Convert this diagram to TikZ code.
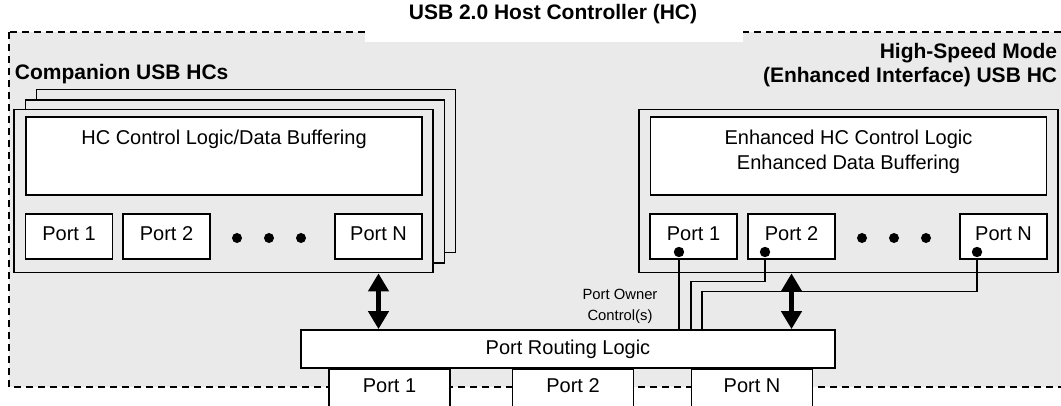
\documentclass[tikz,border=0pt]{standalone}
\usepackage{fontspec}
\setmainfont{Liberation Sans}
\usetikzlibrary{arrows.meta,positioning}
\definecolor{bggray}{gray}{0.918}

\begin{document}
\begin{tikzpicture}[x=0.5pt,y=-0.5pt,line width=0.9pt,
    font=\fontsize{10}{12}\selectfont,
    hcframe/.style={draw,fill=bggray,minimum width=209.5pt,minimum height=81.5pt},
    logicbox/.style={draw,fill=white,minimum width=198pt,minimum height=39pt},
    portbox/.style={draw,fill=white,minimum width=43.5pt,minimum height=22.5pt,
        text height=7.2pt,text depth=3.6pt,inner sep=0pt},
    lowport/.style={portbox,minimum width=60.5pt,minimum height=20pt,anchor=north},
    headline/.style={font=\fontsize{10.5}{12}\selectfont\bfseries,inner sep=0pt},
    busarrow/.style={line width=2.4pt,{Triangle[width=10pt,length=9pt]}-{Triangle[width=10pt,length=9pt]}},
    ownerline/.style={line width=0.8pt},
    portdot/.style={circle,fill,inner sep=0pt,minimum size=5.2pt}]

    \useasboundingbox (0,0) rectangle (1061,406);
    \clip (0,0) rectangle (1061,406);
    \draw[fill=bggray,line width=1pt,dash pattern=on 3.5pt off 2.5pt] (9,32) rectangle (1080,387);
    \fill[white] (365,-5) rectangle (743,42);
    \node[headline,anchor=base] (title) at (553,20) {USB 2.0 Host Controller (HC)};

    \node[headline,anchor=base west] (complabel) at (14,79.5) {Companion USB HCs};
    \node[hcframe] (lback) at (246,171) {};
    \node[hcframe] (lmid) at (235,181.5) {};
    \node[hcframe] (lframe) at (223.5,191) {};
    \node[logicbox] (lctl) at (224,156) {};
    \node (lctltext) at ([yshift=-11.5pt]lctl.north) {HC Control Logic/Data Buffering};
    \node[portbox] (lp1) at (69,236.5) {Port 1};
    \node[portbox] (lp2) at (166.5,236.5) {Port 2};
    \node[portbox] (lpN) at (378.5,236.5) {Port N};

    \node[headline,anchor=north east,align=right] (hslabel) at (1058,42) {High-Speed Mode\\(Enhanced Interface) USB HC};
    \node[hcframe] (rframe) at (848.5,191) {};
    \node[logicbox] (rctl) at (848.5,156) {};
    \node[align=center,font=\fontsize{10}{12.5}\selectfont] (rctltext) at (848.5,151.5) {Enhanced HC Control Logic\\Enhanced Data Buffering};
    \node[portbox] (rp1) at (693.5,236.5) {Port 1};
    \node[portbox] (rp2) at (791.5,236.5) {Port 2};
    \node[portbox] (rpN) at (1003.5,236.5) {Port N};

    \foreach \x in {237,269,301,862,894,926}
        \fill (\x,238) circle[radius=2.5pt];

    \node[draw,fill=white,minimum width=267pt,minimum height=19pt,text height=7.2pt,text depth=2.1pt] (route) at (568,349) {Port Routing Logic};
    \node[lowport] (bp1) at (389.5,368) {Port 1};
    \node[lowport] (bp2) at (573,368) {Port 2};
    \node[lowport] (bpN) at (752,368) {Port N};

    \draw[busarrow] (lframe.south -| lpN) -- (lpN |- route.north);
    \draw[busarrow] (rframe.south -| rp2) -- (rp2 |- route.north);

    \node[portdot] (rp1dot) at (679,252) {};
    \node[portdot] (rp2dot) at (765,252) {};
    \node[portdot] (rpNdot) at (977,252) {};
    \coordinate (bend2) at (691,281.7);
    \coordinate (bendN) at (702,291.7);
    \draw[ownerline] (rp1dot) -- (rp1dot |- route.north);
    \draw[ownerline] (rp2dot) |- (bend2) -- (bend2 |- route.north);
    \draw[ownerline] (rpNdot) |- (bendN) -- (bendN |- route.north);
    \node[font=\fontsize{7.4}{10.5}\selectfont,align=center] (ownertext) at (620,306) {Port Owner\\Control(s)};
\end{tikzpicture}
\end{document}
